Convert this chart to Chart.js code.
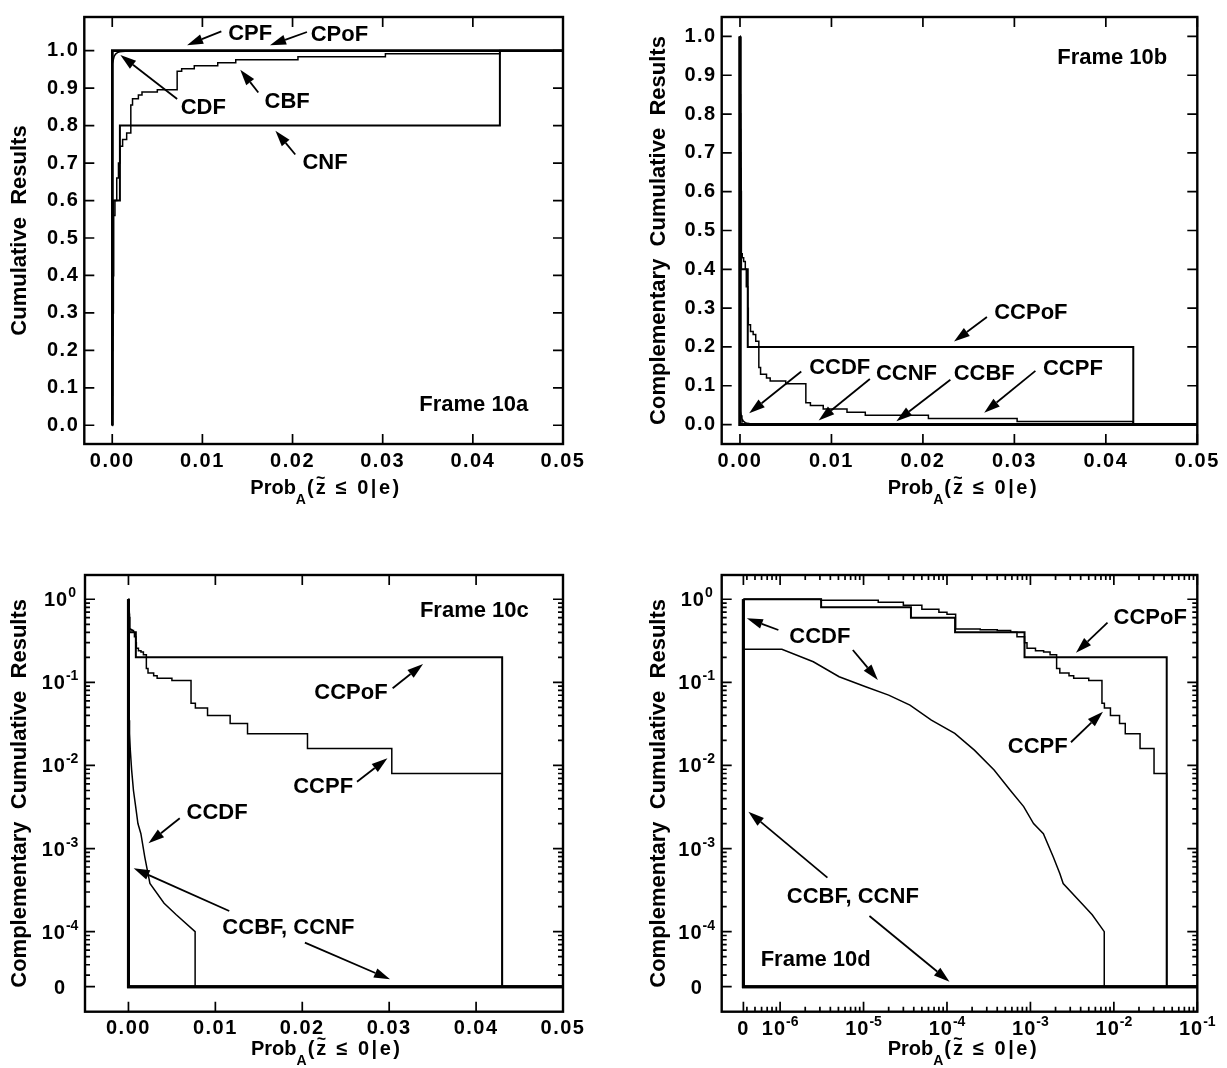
<!DOCTYPE html>
<html>
<head>
<meta charset="utf-8">
<script src="https://cdn.jsdelivr.net/npm/chart.js@4.4.1/dist/chart.umd.min.js"></script>
<style>
  html, body { margin: 0; padding: 0; background: #fff; }
  #wrap { position: relative; width: 1227px; height: 1068px; }
  canvas { position: absolute; }
</style>
</head>
<body>
<div id="wrap">
  <canvas id="c10a" width="614" height="534" style="left:0;top:0"></canvas>
  <canvas id="c10b" width="613" height="534" style="left:614px;top:0"></canvas>
  <canvas id="c10c" width="614" height="534" style="left:0;top:534px"></canvas>
  <canvas id="c10d" width="613" height="534" style="left:614px;top:534px"></canvas>
</div>
<script>
// Frame 10a: cumulative functions
const cpfX = [0, 0, 0.05];
const cpfY = [0, 1, 1];
const cpofX = [0, 0, 0.05];
const cpofY = [0, 1, 1];
const cnfX = [0, 3.1e-6, 3.7e-5, 1.25e-4, 8.5e-4, 0.043, 0.05];
const cnfY = [0, 0.2, 0.4, 0.6, 0.8, 1.0, 1.0];
const cbfX = [0, 3.1e-6, 1.5e-5, 3e-5, 5e-5, 8e-5, 1.27e-4, 3e-4, 5e-4, 6.9e-4, 8.5e-4, 1.15e-3, 1.6e-3,
  2.06e-3, 2.25e-3, 2.9e-3, 3.3e-3, 5.0e-3, 7.2e-3, 7.7e-3, 9.1e-3, 0.0117, 0.0137, 0.0206, 0.0303, 0.043, 0.05];
const cbfY = [0, 0.03, 0.08, 0.15, 0.24, 0.30, 0.56, 0.60, 0.66, 0.70, 0.745, 0.763, 0.78,
  0.855, 0.872, 0.882, 0.890, 0.896, 0.945, 0.952, 0.960, 0.968, 0.976, 0.984, 0.992, 1.0, 1.0];
const cdfX = [0, 0, 1.05e-6, 2.5e-6, 5.1e-6, 1.06e-5, 2.0e-5, 3.6e-5, 6.5e-5, 1.24e-4, 2.13e-4, 3.67e-4,
  5.76e-4, 8.3e-4, 1.09e-3, 1.43e-3, 2.47e-3, 7.67e-3, 7.67e-3, 0.05];
const cdfY = [0, 0.75, 0.75, 0.823, 0.883, 0.912, 0.930, 0.947, 0.965, 0.976, 0.985, 0.991,
  0.995, 0.997, 0.998, 0.9985, 0.9996, 0.9999, 1.0, 1.0];

// Frames 10b-10d: complementary cumulative functions
const ccpofX = [0, 3.1e-6, 3.7e-5, 1.25e-4, 8.5e-4, 0.043, 0.1];
const ccpofY = [1.0, 0.8, 0.6, 0.4, 0.2, 0, 0];
const ccpfX = [0, 3.1e-6, 1.5e-5, 3e-5, 5e-5, 8e-5, 1.0e-4, 1.27e-4, 2.5e-4, 4e-4, 5.8e-4, 6.9e-4, 8.5e-4,
  9.1e-4, 1.15e-3, 1.44e-3, 1.72e-3, 2.06e-3, 2.25e-3, 2.9e-3, 3.3e-3, 5.0e-3, 7.2e-3, 7.7e-3, 9.1e-3,
  0.0117, 0.0137, 0.0206, 0.0303, 0.043, 0.1];
const ccpfY = [1.0, 0.97, 0.92, 0.85, 0.76, 0.70, 0.66, 0.44, 0.43, 0.42, 0.40, 0.355, 0.30,
  0.257, 0.24, 0.232, 0.215, 0.147, 0.13, 0.12, 0.112, 0.105, 0.056, 0.049, 0.040,
  0.032, 0.024, 0.016, 0.008, 0, 0];
const ccdfX = [0, 1.05e-6, 2.5e-6, 5.1e-6, 1.06e-5, 2.0e-5, 3.6e-5, 6.5e-5, 1.24e-4, 2.13e-4, 3.67e-4,
  5.76e-4, 8.3e-4, 1.09e-3, 1.43e-3, 1.88e-3, 2.25e-3, 2.47e-3, 4.1e-3, 5.5e-3, 7.67e-3, 7.67e-3, 0.1];
const ccdfY = [0.25, 0.25, 0.177, 0.117, 0.0885, 0.0703, 0.0533, 0.0351, 0.0243, 0.0153, 0.0088,
  0.0050, 0.0032, 0.0020, 0.00151, 0.00079, 0.00050, 0.00038, 0.00022, 0.00016, 0.0001, 0, 0];
const ccbfX = [0, 0, 0.1];
const ccbfY = [1, 0, 0];
const ccnfX = [0, 0, 0.1];
const ccnfY = [1, 0, 0];

// tick labels
const linXTicks = [0, 0.01, 0.02, 0.03, 0.04, 0.05];
const linYTicks = [0, 0.1, 0.2, 0.3, 0.4, 0.5, 0.6, 0.7, 0.8, 0.9, 1.0];
const logYTicks = [1, 0.1, 0.01, 0.001, 0.0001, 0];
const logYExps = ['0', '-1', '-2', '-3', '-4', null];
const logXTicks = [0, 1e-6, 1e-5, 1e-4, 1e-3, 1e-2, 1e-1];
const logXExps = [null, '-6', '-5', '-4', '-3', '-2', '-1'];

// annotations: [text, x, y] and arrows [fromX, fromY, toX, toY], in data units
const notesA = [['CPF', 0.0153, 1.0507], ['CPoF', 0.0252, 1.048], ['CDF', 0.0101, 0.852],
  ['CBF', 0.0194, 0.869], ['CNF', 0.0236, 0.7056], ['Frame 10a', 0.0401, 0.0585]];
const arrowsA = [[0.0121, 1.0515, 0.0083, 1.0148], [0.0216, 1.0499, 0.0175, 1.0148],
  [0.0072, 0.871, 0.0009, 0.9887], [0.0162, 0.8886, 0.0142, 0.9495], [0.0203, 0.723, 0.0181, 0.7866]];
const notesB = [['CCPoF', 0.0318, 0.2913], ['CCDF', 0.0109, 0.1518], ['CCNF', 0.0182, 0.1342],
  ['CCBF', 0.0267, 0.1342], ['CCPF', 0.0364, 0.1493], ['Frame 10b', 0.0407, 0.9503]];
const arrowsB = [[0.0270, 0.2772, 0.0234, 0.2141], [0.0067, 0.1367, 0.0010, 0.029],
  [0.0142, 0.1173, 0.0086, 0.0105], [0.0230, 0.1157, 0.0171, 0.0088], [0.0323, 0.1384, 0.0267, 0.0307]];
const notesC = [['Frame 10c', 0.0398, 0.76], ['CCPoF', 0.0256, 0.0788], ['CCPF', 0.0224, 0.00583],
  ['CCDF', 0.0102, 0.002835], ['CCBF, CCNF', 0.0184, 1.172e-4]];
const arrowsC = [[0.0304, 0.0849, 0.0339, 0.1665], [0.0263, 0.00638, 0.0298, 0.01221],
  [0.0059, 0.002317, 0.0023, 0.001158], [0.0116, 1.775e-4, 0.0006, 5.79e-4], [0.0203, 7.38e-5, 0.0301, 2.67e-5]];
const notesD = [['CCPoF', 0.0273, 0.63], ['CCDF', 2.99e-6, 0.375], ['CCPF', 1.223e-3, 0.01765],
  ['CCBF, CCNF', 7.44e-6, 2.766e-4], ['Frame 10d', 2.67e-6, 4.79e-5]];
const arrowsD = [[8.39e-3, 0.523, 3.515e-3, 0.2277], [9.54e-7, 0.427, 3.99e-7, 0.5905],
  [7.44e-6, 0.2455, 1.484e-5, 0.1069], [3.06e-3, 0.01902, 7.4e-3, 0.04441],
  [3.69e-6, 4.467e-4, 4.17e-7, 2.78e-3], [1.177e-5, 1.545e-4, 1.072e-4, 2.5e-5]];

const FONT = 'Arial, "Liberation Sans", sans-serif';
Chart.defaults.font.family = FONT;
Chart.defaults.font.weight = 'bold';
Chart.defaults.color = '#000';

// log axis that also shows 0 at a fixed place below the lowest decade
class LogZeroScale extends Chart.LinearScale {
  static id = 'logzero';
  static defaults = {};
  determineDataLimits() {
    this.min = this.options.posMin;
    this.max = this.options.posMax;
  }
  buildTicks() {
    return this.options.tickValues.map(v => ({ value: v }));
  }
  toPos(v) {
    return v > 0 ? Math.log10(v) : this.options.zeroPos;
  }
  getPixelForValue(v) {
    if (v === null || v === undefined || isNaN(v)) return NaN;
    return this.getPixelForDecimal((this.toPos(v) - this.min) / (this.max - this.min));
  }
  getValueForPixel(p) {
    return Math.pow(10, this.min + this.getDecimalForPixel(p) * (this.max - this.min));
  }
}
Chart.register(LogZeroScale);

function logMinors(lo, hi) {
  const out = [];
  for (let e = -8; e <= 0; e++) {
    for (let k = 2; k <= 9; k++) {
      const v = k * Math.pow(10, e), p = Math.log10(v);
      if (p > lo + 0.01 && p < hi - 0.01) out.push(v);
    }
  }
  return out;
}

function series(label, xs, ys, width, stepped) {
  return {
    label,
    data: xs.map((x, i) => ({ x, y: ys[i] })),
    borderColor: '#000',
    borderWidth: width,
    pointRadius: 0,
    fill: false,
    tension: 0,
    stepped: stepped
  };
}

function linAxis(min, max, vals, digits, pad, fitKey, fitVal) {
  return {
    type: 'linear', min, max,
    afterBuildTicks: s => { s.ticks = vals.map(v => ({ value: v })); },
    afterFit: s => { s[fitKey] = fitVal; },
    grid: { display: false, drawTicks: false },
    border: { display: false },
    ticks: { padding: pad, autoSkip: false, maxRotation: 0, font: { size: 20, weight: 'bold' },
      callback: v => Number(v).toFixed(digits) }
  };
}

function logAxis(posMin, posMax, zeroPos, vals, fitKey, fitVal) {
  return {
    type: 'logzero', posMin, posMax, zeroPos, tickValues: vals,
    afterFit: s => { s[fitKey] = fitVal; },
    grid: { display: false, drawTicks: false },
    border: { display: false },
    ticks: { display: false }
  };
}

function arrow(ctx, x1, y1, x2, y2) {
  const ang = Math.atan2(y2 - y1, x2 - x1), L = 16, W = 5;
  const bx = x2 - L * Math.cos(ang), by = y2 - L * Math.sin(ang);
  ctx.lineWidth = 1.8;
  ctx.beginPath(); ctx.moveTo(x1, y1); ctx.lineTo(bx, by); ctx.stroke();
  ctx.beginPath();
  ctx.moveTo(x2, y2);
  ctx.lineTo(bx + W * Math.sin(ang), by - W * Math.cos(ang));
  ctx.lineTo(bx - W * Math.sin(ang), by + W * Math.cos(ang));
  ctx.closePath(); ctx.fill();
}

// frame, inward ticks, power labels, titles and notes
function deco(cfg) {
  return {
    id: 'deco',
    beforeDraw(chart) { chart.ctx.letterSpacing = '1.5px'; },
    afterDraw(chart) {
      const ctx = chart.ctx, a = chart.chartArea, xs = chart.scales.x, ys = chart.scales.y;
      ctx.save();
      ctx.letterSpacing = '0px';
      ctx.strokeStyle = '#000';
      ctx.fillStyle = '#000';
      ctx.lineWidth = 2.4;
      ctx.strokeRect(a.left, a.top, a.right - a.left, a.bottom - a.top);

      const marks = (scale, vals, len) => {
        ctx.beginPath();
        vals.forEach(v => {
          const p = scale.getPixelForValue(v);
          if (scale.isHorizontal()) {
            ctx.moveTo(p, a.bottom); ctx.lineTo(p, a.bottom - len);
            ctx.moveTo(p, a.top); ctx.lineTo(p, a.top + len);
          } else {
            ctx.moveTo(a.left, p); ctx.lineTo(a.left + len, p);
            ctx.moveTo(a.right, p); ctx.lineTo(a.right - len, p);
          }
        });
        ctx.stroke();
      };
      ctx.lineWidth = 1.7;
      marks(xs, cfg.xMajor, 10);
      marks(xs, cfg.xMinor || [], 5);
      marks(ys, cfg.yMajor, 10);
      marks(ys, cfg.yMinor || [], 5);

      const pow = (exp, cx, base) => {
        const main = exp === null ? '0' : '10';
        ctx.letterSpacing = '1px';
        ctx.font = 'bold 20px ' + FONT;
        const mw = ctx.measureText(main).width;
        ctx.letterSpacing = '0px';
        ctx.font = 'bold 14px ' + FONT;
        const ew = exp === null ? 0 : ctx.measureText(exp).width;
        const x0 = cx - (mw + ew) / 2;
        ctx.textAlign = 'left';
        ctx.textBaseline = 'alphabetic';
        ctx.letterSpacing = '1px';
        ctx.font = 'bold 20px ' + FONT;
        ctx.fillText(main, x0, base);
        ctx.letterSpacing = '0px';
        if (exp !== null) {
          ctx.font = 'bold 14px ' + FONT;
          ctx.fillText(exp, x0 + mw, base - 9);
        }
      };
      if (cfg.yPow) {
        cfg.yPow.vals.forEach((v, i) => pow(cfg.yPow.exps[i], a.left - 25, ys.getPixelForValue(v) + 7));
      }
      if (cfg.xPow) {
        cfg.xPow.vals.forEach((v, i) => pow(cfg.xPow.exps[i], xs.getPixelForValue(v), a.bottom + 23.6));
      }

      // y title
      ctx.save();
      ctx.translate(cfg.yTitleX, (a.top + a.bottom) / 2);
      ctx.rotate(-Math.PI / 2);
      ctx.font = 'bold 22px ' + FONT;
      ctx.textAlign = 'center';
      ctx.textBaseline = 'middle';
      ctx.fillText(cfg.yTitle, 0, 0);
      ctx.restore();

      // x title: Prob_A(z~ <= 0|e)
      let tx = a.left + 166;
      const tb = a.bottom + cfg.xTitleBase;
      ctx.textAlign = 'left';
      ctx.textBaseline = 'alphabetic';
      ctx.font = 'bold 20px ' + FONT;
      ctx.fillText('Prob', tx, tb);
      tx += ctx.measureText('Prob').width;
      ctx.font = 'bold 14px ' + FONT;
      ctx.fillText('A', tx, tb + 10);
      tx += ctx.measureText('A').width + 1;
      ctx.font = 'bold 20px ' + FONT;
      ctx.letterSpacing = '2px';
      ctx.fillText('(', tx, tb);
      tx += ctx.measureText('(').width;
      ctx.fillText('z', tx, tb);
      const zw = ctx.measureText('z').width;
      ctx.letterSpacing = '0px';
      ctx.font = 'bold 16px ' + FONT;
      ctx.textAlign = 'center';
      ctx.fillText('~', tx + (zw - 2) / 2, tb - 11);
      ctx.textAlign = 'left';
      tx += zw;
      ctx.font = 'bold 20px ' + FONT;
      ctx.letterSpacing = '2.5px';
      ctx.fillText(' \u2264 0|e)', tx, tb);
      ctx.letterSpacing = '0px';

      // notes and arrows
      ctx.font = 'bold 22px ' + FONT;
      ctx.textAlign = 'center';
      cfg.notes.forEach(([t, x, y]) => {
        ctx.fillText(t, xs.getPixelForValue(x), ys.getPixelForValue(y) + 7.9);
      });
      cfg.arrows.forEach(([x1, y1, x2, y2]) => {
        arrow(ctx, xs.getPixelForValue(x1), ys.getPixelForValue(y1), xs.getPixelForValue(x2), ys.getPixelForValue(y2));
      });
      ctx.restore();
    }
  };
}

function panel(id, pad, xAxis, yAxis, datasets, cfg) {
  new Chart(document.getElementById(id), {
    type: 'line',
    data: { datasets },
    options: {
      responsive: false,
      animation: false,
      devicePixelRatio: 1,
      events: [],
      layout: { padding: { top: pad.top, right: pad.right, bottom: 0, left: 0 } },
      plugins: { legend: { display: false }, tooltip: { enabled: false } },
      scales: { x: xAxis, y: yAxis }
    },
    plugins: [deco(cfg)]
  });
}

const compTitle = 'Complementary  Cumulative  Results';
const yLogMinors = logMinors(-4.662, 0.292);

panel('c10a', { top: 8, right: 51 },
  linAxis(-0.0031, 0.05, linXTicks, 2, 5, 'height', 90),
  linAxis(-0.05, 1.09, linYTicks, 1, 5, 'width', 84.3),
  [series('CPF', cpfX, cpfY, 2.5, true), series('CPoF', cpofX, cpofY, 2.5, true),
   series('CNF', cnfX, cnfY, 2, true), series('CBF', cbfX, cbfY, 1.5, true),
   series('CDF', cdfX, cdfY, 1.5, false)],
  { xMajor: linXTicks, yMajor: linYTicks, yTitle: 'Cumulative  Results', yTitleX: 20,
    xTitleBase: 49.5, notes: notesA, arrows: arrowsA });

panel('c10b', { top: 8, right: 29.7 },
  linAxis(-0.002, 0.05, linXTicks, 2, 5, 'height', 90),
  linAxis(-0.05, 1.05, linYTicks, 1, 5, 'width', 107.7),
  [series('CCBF', ccbfX, ccbfY, 3, true), series('CCNF', ccnfX, ccnfY, 3, true),
   series('CCPoF', ccpofX, ccpofY, 2, true), series('CCPF', ccpfX, ccpfY, 1.5, true),
   series('CCDF', ccdfX, ccdfY, 1.5, false)],
  { xMajor: linXTicks, yMajor: linYTicks, yTitle: compTitle, yTitleX: 45.4,
    xTitleBase: 49.5, notes: notesB, arrows: arrowsB });

panel('c10c', { top: 41, right: 51 },
  linAxis(-0.005, 0.05, linXTicks, 2, 5, 'height', 56.3),
  logAxis(-4.963, 0.292, -4.662, logYTicks, 'width', 85),
  [series('CCBF', ccbfX, ccbfY, 3, true), series('CCNF', ccnfX, ccnfY, 3, true),
   series('CCPoF', ccpofX, ccpofY, 2, true), series('CCPF', ccpfX, ccpfY, 1.5, true),
   series('CCDF', ccdfX, ccdfY, 1.5, false)],
  { xMajor: linXTicks, yMajor: logYTicks, yMinor: yLogMinors,
    yPow: { vals: logYTicks, exps: logYExps }, yTitle: compTitle, yTitleX: 20,
    xTitleBase: 42.8, notes: notesC, arrows: arrowsC });

panel('c10d', { top: 41, right: 29.7 },
  logAxis(-6.7, -1, -6.44, logXTicks, 'height', 56.3),
  logAxis(-4.963, 0.292, -4.662, logYTicks, 'width', 107.7),
  [series('CCBF', ccbfX, ccbfY, 3, true), series('CCNF', ccnfX, ccnfY, 3, true),
   series('CCPoF', ccpofX, ccpofY, 2, true), series('CCPF', ccpfX, ccpfY, 1.5, true),
   series('CCDF', ccdfX, ccdfY, 1.5, false)],
  { xMajor: logXTicks, xMinor: logMinors(-6.44, -1), yMajor: logYTicks, yMinor: yLogMinors,
    xPow: { vals: logXTicks, exps: logXExps }, yPow: { vals: logYTicks, exps: logYExps },
    yTitle: compTitle, yTitleX: 45.4, xTitleBase: 42.8, notes: notesD, arrows: arrowsD });
</script>
</body>
</html>
